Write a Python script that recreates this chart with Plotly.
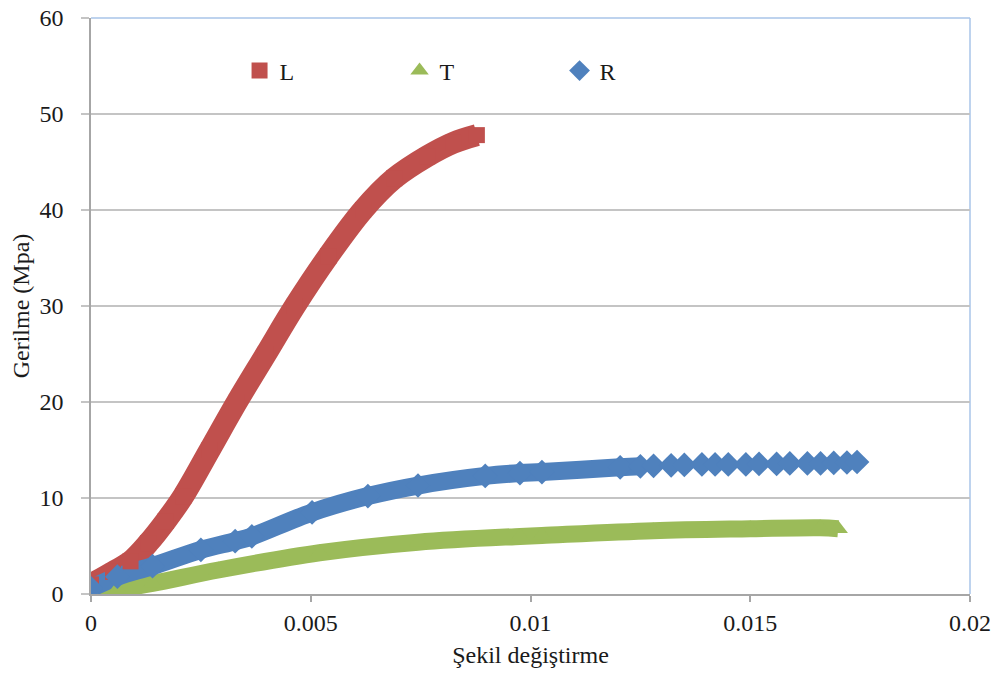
import plotly.graph_objects as go

# Strain (Şekil değiştirme) and stress (Gerilme, MPa)
L_x = [0.0, 0.0005, 0.0009, 0.0013, 0.0017, 0.0021, 0.0027, 0.00332, 0.00398, 0.00464,
       0.0054, 0.00619, 0.0069, 0.00765, 0.00824, 0.00878]
L_y = [1.0, 2.3, 3.4, 5.3, 7.6, 10.2, 15.0, 20.0, 25.0, 30.0,
       35.2, 40.0, 43.3, 45.6, 47.0, 47.8]

T_x = [0.0, 0.0006, 0.0014, 0.0029, 0.0052, 0.00744, 0.00976, 0.01026, 0.01279, 0.01500,
       0.01659, 0.0170]
T_y = [0.1, 0.5, 1.1, 2.5, 4.3, 5.4, 6.0, 6.1, 6.6, 6.8,
       6.9, 6.8]

R_x = [0.0, 0.0006, 0.0014, 0.0025, 0.00328, 0.00366, 0.00503, 0.0063, 0.00744, 0.00897,
       0.00976, 0.01026, 0.01204, 0.0125, 0.0128, 0.0132, 0.0135, 0.0139, 0.0142, 0.0145,
       0.0149, 0.0152, 0.0156, 0.0159, 0.0163, 0.0166, 0.0169, 0.0172, 0.01743]
R_y = [0.6, 1.8, 2.9, 4.6, 5.5, 6.0, 8.5, 10.2, 11.3, 12.3,
       12.6, 12.7, 13.2, 13.3, 13.35, 13.4, 13.45, 13.5, 13.5, 13.5,
       13.5, 13.55, 13.55, 13.6, 13.6, 13.6, 13.65, 13.7, 13.75]

series_names = ["L", "T", "R"]
colors = ["#C0504D", "#9BBB59", "#4F81BD"]
symbols = ["square", "triangle-up", "diamond"]
band_widths = [22, 17, 18]
marker_sizes = [16, 17, 19]
data = [(L_x, L_y), (T_x, T_y), (R_x, R_y)]
# the last R points show as separate diamonds, so the band stops before them
band_end = [len(L_x), len(T_x), 14]

FONT = "Liberation Serif, Times New Roman, serif"
TXT = "#1a1a1a"

fig = go.Figure()
for (xs, ys), name, col, w, n in zip(data, series_names, colors, band_widths, band_end):
    fig.add_trace(go.Scatter(x=xs[:n], y=ys[:n], mode="lines", name=name, showlegend=False,
                             line=dict(color=col, width=w, shape="spline", smoothing=1.0),
                             hoverinfo="skip"))
for (xs, ys), name, col, sym, ms in zip(data, series_names, colors, symbols, marker_sizes):
    fig.add_trace(go.Scatter(x=xs, y=ys, mode="markers", name=name,
                             marker=dict(color=col, symbol=sym, size=ms, line=dict(width=0))))

fig.update_layout(
    width=1006, height=675,
    margin=dict(l=91, r=36, t=18, b=81, autoexpand=False),
    paper_bgcolor="white", plot_bgcolor="white",
    font=dict(family=FONT, size=24, color=TXT),
    showlegend=True,
    legend=dict(orientation="h", x=0.169, y=0.908, xanchor="left", yanchor="middle",
                entrywidth=115, entrywidthmode="pixels", itemsizing="trace",
                bgcolor="rgba(0,0,0,0)", font=dict(size=24, family=FONT, color=TXT)),
    xaxis=dict(range=[0, 0.02], dtick=0.005, tick0=0, showgrid=False, zeroline=False,
               automargin=False, ticklabeloverflow="allow",
               showline=True, linecolor="#a6a6a6", linewidth=1.5,
               ticks="outside", ticklen=6, tickcolor="#a6a6a6", tickwidth=1.5,
               ticklabelstandoff=0,
               tickfont=dict(family=FONT, size=24, color=TXT),
               title=dict(text="Şekil değiştirme", font=dict(size=24, family=FONT, color=TXT),
                          standoff=12)),
    yaxis=dict(range=[0, 60], dtick=10, tick0=0, showgrid=True, gridcolor="#c4c4c4", gridwidth=1.5,
               automargin=False, ticklabeloverflow="allow",
               zeroline=False, showline=True, linecolor="#a6a6a6", linewidth=1.5,
               ticks="outside", ticklen=8, tickcolor="#c4c4c4", tickwidth=1.5,
               ticklabelstandoff=13,
               tickfont=dict(family=FONT, size=24, color=TXT),
               title=dict(text="Gerilme (Mpa)", font=dict(size=24, family=FONT, color=TXT),
                          standoff=3)),
)
# light blue plot-area border on top and right
fig.add_shape(type="line", xref="paper", yref="paper", x0=0, x1=1, y0=1, y1=1,
              line=dict(color="#A9C4E8", width=1.5), layer="below")
fig.add_shape(type="line", xref="paper", yref="paper", x0=1, x1=1, y0=0, y1=1,
              line=dict(color="#A9C4E8", width=1.5), layer="below")

# remove the page's default body margin so the figure fills the window exactly
fig.write_html("out.html", config={"displayModeBar": False},
               post_script="document.body.style.margin='0';document.body.style.overflow='hidden';")
